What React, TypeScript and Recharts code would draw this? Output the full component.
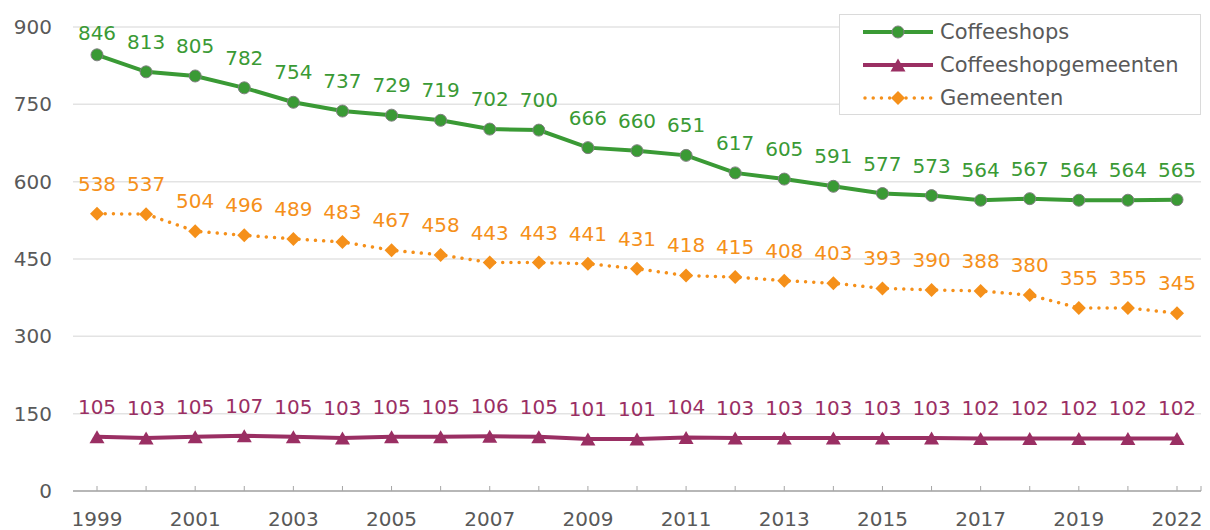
import { CartesianGrid, LabelList, Legend, Line, LineChart, XAxis, YAxis } from "recharts";

const years = [
  "1999", "2000", "2001", "2002", "2003", "2004", "2005", "2006", "2007", "2008", "2009", "2010",
  "2011", "2012", "2013", "2014", "2015", "2016", "2017", "2018", "2019", "2020", "2022",
];
const coffeeshops = [846, 813, 805, 782, 754, 737, 729, 719, 702, 700, 666, 660, 651, 617, 605, 591, 577, 573, 564, 567, 564, 564, 565];
const coffeeshopgemeenten = [105, 103, 105, 107, 105, 103, 105, 105, 106, 105, 101, 101, 104, 103, 103, 103, 103, 103, 102, 102, 102, 102, 102];
const gemeenten = [538, 537, 504, 496, 489, 483, 467, 458, 443, 443, 441, 431, 418, 415, 408, 403, 393, 390, 388, 380, 355, 355, 345];
const yTicks = [0, 150, 300, 450, 600, 750, 900];

const data = years.map((year, i) => ({
  year,
  coffeeshops: coffeeshops[i],
  coffeeshopgemeenten: coffeeshopgemeenten[i],
  gemeenten: gemeenten[i],
}));

const GREEN = "#3a9a35";
const PURPLE = "#9a2f63";
const ORANGE = "#f5901a";
const TEXT = "#595959";
const AXIS = "#a6a6a6";
const GRID = "#e3e3e3";
const FONT = '"DejaVu Sans", Verdana, sans-serif';

function Circle({ cx, cy }: any) {
  if (cx == null || cy == null) return null;
  return <circle cx={cx} cy={cy} r={6} fill={GREEN} stroke="#808080" strokeWidth={1} />;
}

function Triangle({ cx, cy }: any) {
  if (cx == null || cy == null) return null;
  return <path d={`M${cx},${cy - 6.5} L${cx + 7.5},${cy + 6.5} L${cx - 7.5},${cy + 6.5} Z`} fill={PURPLE} />;
}

function Diamond({ cx, cy }: any) {
  if (cx == null || cy == null) return null;
  return <path d={`M${cx},${cy - 7} L${cx + 7},${cy} L${cx},${cy + 7} L${cx - 7},${cy} Z`} fill={ORANGE} />;
}

// value label above the point, kept inside the chart like Excel does
function makeLabel(color: string) {
  return function ValueLabel(props: any) {
    const { x, y, width, value } = props;
    const cx = Number(x) + (Number(width) || 0) / 2;
    const base = Math.max(Number(y) - 23, 40);
    return (
      <text x={cx} y={base} textAnchor="middle" fill={color} fontSize={20} fontFamily={FONT}>
        {value}
      </text>
    );
  };
}

function YearTick(props: any) {
  const { x, y, payload } = props;
  const i = years.indexOf(String(payload.value));
  const last = i === years.length - 1;
  return (
    <g>
      <line x1={x} x2={x} y1={y - 5} y2={y} stroke={AXIS} strokeWidth={1} />
      {last ? <line x1={x + 24} x2={x + 24} y1={y - 5} y2={y} stroke={AXIS} strokeWidth={1} /> : null}
      {i % 2 === 0 ? (
        <text x={x} y={y + 35} textAnchor="middle" fill={TEXT} fontSize={20} fontFamily={FONT}>
          {payload.value}
        </text>
      ) : null}
    </g>
  );
}

const legendItems = [
  { name: "Coffeeshops", color: GREEN, dotted: false, Marker: Circle },
  { name: "Coffeeshopgemeenten", color: PURPLE, dotted: false, Marker: Triangle },
  { name: "Gemeenten", color: ORANGE, dotted: true, Marker: Diamond },
];

function LegendBox() {
  return (
    <div
      style={{
        width: 362,
        height: 101,
        boxSizing: "border-box",
        border: "1.5px solid #dadada",
        background: "#fff",
        fontFamily: FONT,
        fontSize: 21,
        color: TEXT,
      }}
    >
      {legendItems.map(({ name, color, dotted, Marker }) => (
        <div key={name} style={{ display: "flex", alignItems: "center", height: 33, paddingLeft: 23 }}>
          <svg width={70} height={20} style={{ display: "block" }}>
            <line
              x1={dotted ? 2 : 0}
              x2={dotted ? 68 : 70}
              y1={10}
              y2={10}
              stroke={color}
              strokeWidth={dotted ? 3.5 : 4}
              strokeDasharray={dotted ? "0.01 8.2" : undefined}
              strokeLinecap="round"
            />
            <Marker cx={35} cy={10} />
          </svg>
          <span style={{ marginLeft: 7 }}>{name}</span>
        </div>
      ))}
    </div>
  );
}

export default function App() {
  return (
    <div style={{ position: "absolute", left: 0, top: 0, width: 1210, height: 530, background: "#fff" }}>
      <LineChart
        width={1210}
        height={530}
        data={data}
        margin={{ top: 27, right: 9, bottom: 0, left: 0 }}
        style={{ fontFamily: FONT }}
      >
        <CartesianGrid vertical={false} stroke={GRID} strokeWidth={1.5} />
        <XAxis
          dataKey="year"
          height={39}
          interval={0}
          padding={{ left: 24, right: 24 }}
          tickSize={0}
          tickMargin={0}
          tickLine={false}
          axisLine={{ stroke: AXIS, strokeWidth: 1.5 }}
          tick={<YearTick />}
        />
        <YAxis
          domain={[0, 900]}
          ticks={yTicks}
          width={73}
          axisLine={false}
          tickLine={false}
          tickSize={0}
          tickMargin={21}
          tick={{ fill: TEXT, fontSize: 20, fontFamily: FONT }}
        />
        <Legend
          layout="vertical"
          align="center"
          verticalAlign="middle"
          wrapperStyle={{ top: 14, left: 839, width: 362, height: 101 }}
          content={<LegendBox />}
        />
        <Line
          dataKey="coffeeshops"
          name="Coffeeshops"
          stroke={GREEN}
          strokeWidth={4}
          dot={<Circle />}
          activeDot={false}
          isAnimationActive={false}
        >
          <LabelList dataKey="coffeeshops" content={makeLabel(GREEN)} />
        </Line>
        <Line
          dataKey="coffeeshopgemeenten"
          name="Coffeeshopgemeenten"
          stroke={PURPLE}
          strokeWidth={4}
          dot={<Triangle />}
          activeDot={false}
          isAnimationActive={false}
        >
          <LabelList dataKey="coffeeshopgemeenten" content={makeLabel(PURPLE)} />
        </Line>
        <Line
          dataKey="gemeenten"
          name="Gemeenten"
          stroke={ORANGE}
          strokeWidth={3.5}
          strokeDasharray="0.01 8.2"
          strokeLinecap="round"
          dot={<Diamond />}
          activeDot={false}
          isAnimationActive={false}
        >
          <LabelList dataKey="gemeenten" content={makeLabel(ORANGE)} />
        </Line>
      </LineChart>
    </div>
  );
}
